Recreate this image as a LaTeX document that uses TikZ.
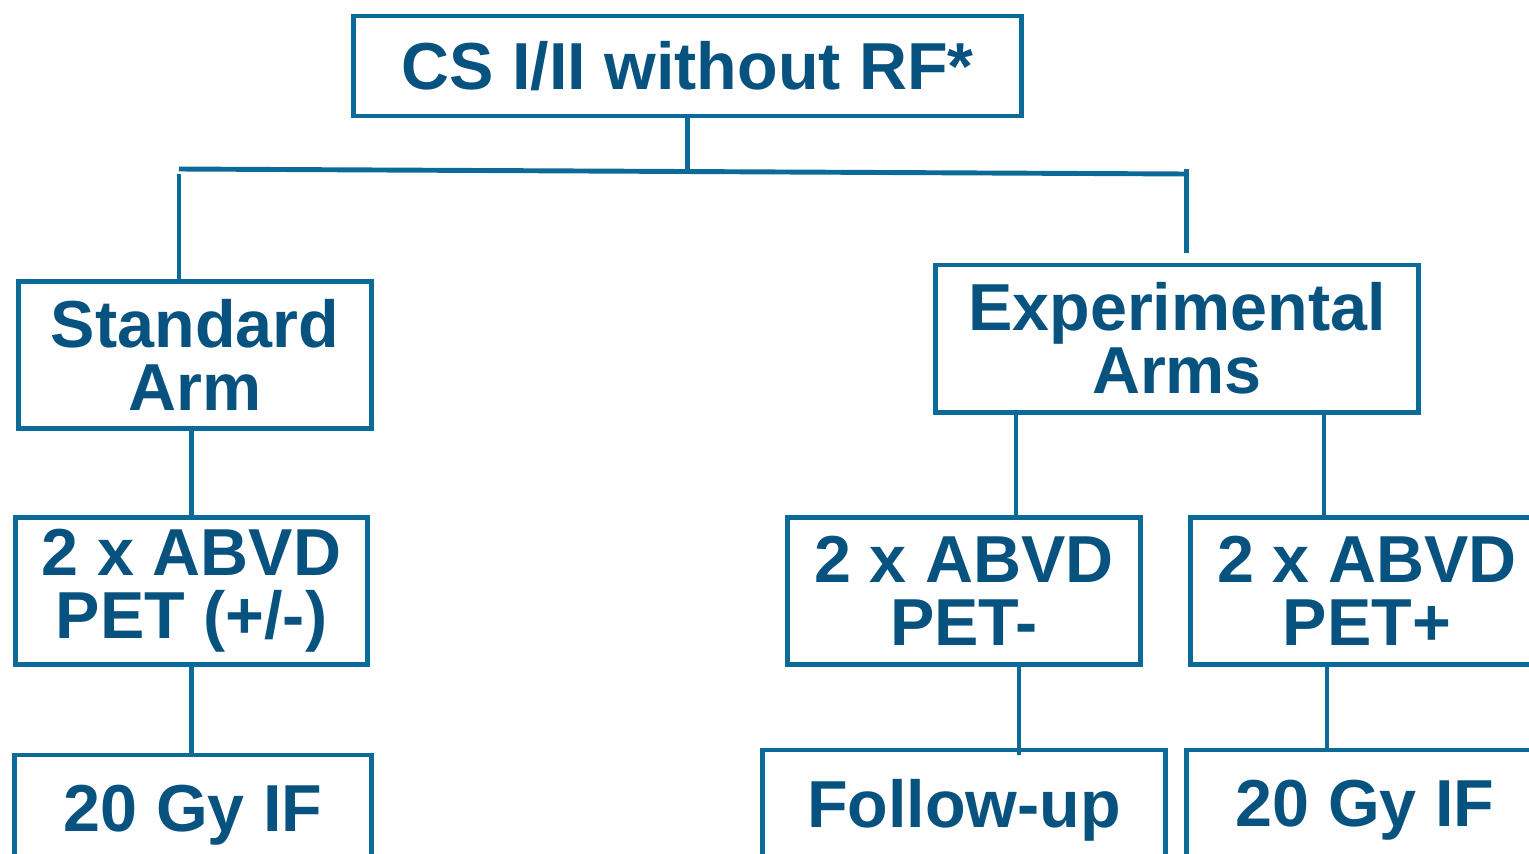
\documentclass[tikz,border=0pt]{standalone}
\usepackage{fontspec}
\setmainfont{Liberation Sans}
\definecolor{edge}{HTML}{0B6A98}
\definecolor{ink}{HTML}{08527F}
\usetikzlibrary{positioning}

\begin{document}
\begin{tikzpicture}[x=0.01cm,y=-0.01cm,
    box/.style={
      draw=edge,line width=1.4pt,text=ink,align=center,inner sep=0pt,
      font=\bfseries\fontsize{18.9}{17.9}\selectfont,
      minimum width=3.52cm,minimum height=1.47cm},
    link/.style={draw=edge,line width=1.4pt},
  ]
    \clip (0,0) rectangle (1529,854);

    \node[box,minimum width=6.67cm,minimum height=1.0cm] (start) at (687.5,66)
      {CS I/II without RF*};

    \node[box] (standard) at (195,355) {Standard\\Arm};
    \node[box,minimum width=4.82cm] (exper) at (1177,338.5) {Experimental\\Arms};

    \node[box] (abvdL) at (191.5,591) {2 x ABVD\\PET (+/-)};
    \node[box] (abvdM) at (964,591) {2 x ABVD\\PET-};
    \node[box] (abvdR) at (1367,591) {2 x ABVD\\PET+};

    \node[box,minimum width=3.56cm,minimum height=1.2cm] (gyL) at (193,815) {20 Gy IF};
    \node[box,minimum width=4.02cm,minimum height=1.2cm] (followup) at (964,810) {Follow-up};
    \node[box,minimum width=3.56cm,minimum height=1.2cm] (gyR) at (1365,810) {20 Gy IF};

    % split below the first box
    \coordinate (splitL) at (179,169);
    \coordinate (splitR) at (1186.7,174);
    \coordinate (armL) at (179,174);
    \coordinate (armR) at (1186.7,169);
    \coordinate (armRend) at (1186.7,253);
    \draw[link] (splitL) -- (splitR);
    \draw[link] (start.south) -- (start.south |- splitR);
    \draw[link] (armL) -- (armL |- standard.north);
    \draw[link] (armR) -- (armRend);

    % experimental branches
    \coordinate (colM) at (1016,0);
    \coordinate (colR) at (1324,0);
    \coordinate (colMlow) at (1019,755);
    \coordinate (colRlow) at (1327,748);
    \draw[link] (exper.south -| colM) -- (abvdM.north -| colM);
    \draw[link] (exper.south -| colR) -- (abvdR.north -| colR);
    \draw[link] (abvdM.south -| colMlow) -- (colMlow);
    \draw[link] (abvdR.south -| colRlow) -- (colRlow);

    % standard branch
    \draw[link] (abvdL.north |- standard.south) -- (abvdL.north);
    \draw[link] (abvdL.south) -- (abvdL.south |- gyL.north);
\end{tikzpicture}
\end{document}
